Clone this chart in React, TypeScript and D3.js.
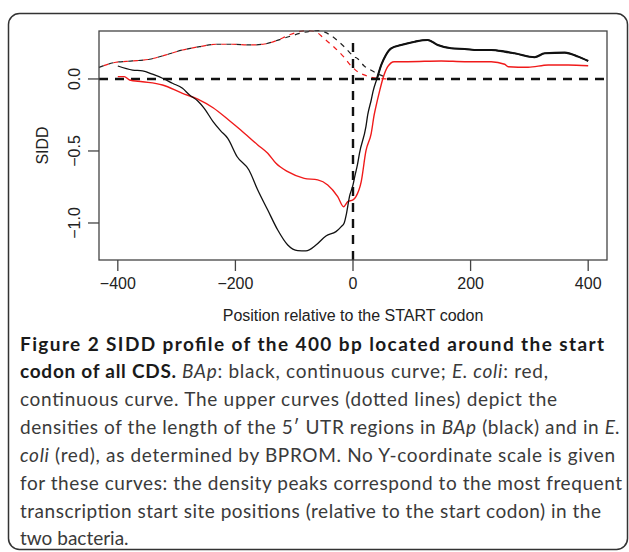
import React from 'react';
import * as d3 from 'd3';

// SIDD profile around the START codon (position in bp, SIDD value)
const bapSidd: [number, number][] = [
  [-400, 0.09], [-375, 0.062], [-358, 0.056], [-341, 0.033], [-324, 0.005],
  [-307, -0.03], [-290, -0.065], [-278, -0.111], [-264, -0.153], [-253, -0.204],
  [-238, -0.296], [-225, -0.36], [-213, -0.412], [-197, -0.54], [-177, -0.632],
  [-162, -0.771], [-145, -0.91], [-128, -1.049], [-111, -1.153], [-94, -1.192],
  [-80, -1.194], [-63, -1.153], [-46, -1.09], [-29, -1.06], [-20, -1.025],
  [-15, -1.0], [-11, -0.933], [-6, -0.817], [0, -0.736], [3, -0.678],
  [8, -0.586], [11, -0.516], [22, -0.331], [25, -0.25], [31, -0.146],
  [34, -0.088], [41, 0.005], [48, 0.097], [56, 0.167], [65, 0.213],
  [82, 0.236], [105, 0.259], [127, 0.271], [144, 0.236], [167, 0.213],
  [190, 0.208], [212, 0.201], [235, 0.201], [258, 0.19], [275, 0.178],
  [309, 0.151], [326, 0.178], [360, 0.183], [383, 0.155], [400, 0.125],
];

const ecoliSidd: [number, number][] = [
  [-400, 0.016], [-389, 0.016], [-380, -0.007], [-358, -0.019], [-324, -0.042],
  [-290, -0.1], [-264, -0.14], [-238, -0.2], [-210, -0.29], [-191, -0.354],
  [-162, -0.458], [-145, -0.516], [-131, -0.586], [-111, -0.644], [-83, -0.69],
  [-60, -0.701], [-43, -0.736], [-26, -0.817], [-16, -0.887], [-9, -0.852],
  [0, -0.84], [5, -0.817], [14, -0.713], [22, -0.5], [31, -0.377],
  [36, -0.25], [39, -0.192], [45, -0.088], [51, 0.005], [59, 0.085],
  [70, 0.12], [93, 0.12], [150, 0.125], [190, 0.12], [235, 0.12],
  [258, 0.102], [264, 0.085], [298, 0.081], [332, 0.097], [366, 0.097], [400, 0.092],
];

// 5' UTR length densities (drawn in plot units, no own scale)
const densityShared: [number, number][] = [
  [-432, 0.08], [-403, 0.116], [-375, 0.125], [-346, 0.137], [-318, 0.167],
  [-290, 0.201], [-261, 0.224], [-233, 0.241], [-205, 0.241], [-176, 0.236],
  [-153, 0.241], [-131, 0.265],
];
const bapDensityTail: [number, number][] = [
  [-108, 0.295], [-85, 0.322], [-70, 0.333], [-60, 0.336], [-48, 0.325],
  [-37, 0.3], [-15, 0.224], [2, 0.155], [8, 0.14], [19, 0.09],
  [31, 0.06], [45, 0.03], [59, 0.008], [75, 0], [82, 0],
];
const ecoliDensityTail: [number, number][] = [
  [-108, 0.306], [-90, 0.33], [-78, 0.335], [-65, 0.33], [-49, 0.28],
  [-32, 0.22], [-15, 0.15], [-3, 0.09], [8, 0.05], [19, 0.028],
  [30, 0.013], [42, 0.005], [55, 0.001], [65, 0],
];

const xTicks = [-400, -200, 0, 200, 400];
const yTicks = [-1.0, -0.5, 0.0];
const yTickLabels = ['\u22121.0', '\u22120.5', '0.0'];

const W = 629;
const H = 552;
const plot = { left: 99, right: 607, top: 31, bottom: 260 };
const axisFont = '"Liberation Sans", Arial, Helvetica, sans-serif';
const captionFont = 'Lato, "Open Sans", sans-serif';

export default function App() {
  const x = d3.scaleLinear().domain([-432, 432]).range([plot.left, plot.right]);
  const y = d3.scaleLinear().domain([-1.257, 0.333]).range([plot.bottom, plot.top]);

  const line = d3.line<[number, number]>()
    .x(d => x(d[0]))
    .y(d => y(d[1]))
    .curve(d3.curveMonotoneX);

  const bapDensity = [...densityShared, ...bapDensityTail];
  const ecoliDensity = [...densityShared, ...ecoliDensityTail];
  const bapJagged = bapSidd.filter(d => d[0] >= 41);

  const red = '#f01a1a';
  const capY0 = 350.5;
  const capStep = 27.85;
  const capX = 20;

  return (
    <svg width={W} height={H} style={{ position: 'absolute', left: 0, top: 0, background: '#fff' }}>
      {/* outer figure box */}
      <rect x={8.5} y={13.5} width={619} height={536} rx={11} fill="none" stroke="#333" strokeWidth={1.5} />

      {/* density curves */}
      <path d={line(bapDensity) || ''} fill="none" stroke="#222" strokeWidth={1.2} strokeDasharray="5 5" />
      <path d={line(ecoliDensity) || ''} fill="none" stroke={red} strokeWidth={1.2} strokeDasharray="5 5" strokeDashoffset={5} />

      {/* reference lines */}
      <line x1={plot.left} x2={plot.right} y1={y(0)} y2={y(0)} stroke="#111" strokeWidth={2.4} strokeDasharray="9 7" />
      <line x1={x(0)} x2={x(0)} y1={plot.bottom} y2={40} stroke="#111" strokeWidth={2.4} strokeDasharray="9 7" />

      {/* SIDD curves */}
      <path d={line(ecoliSidd) || ''} fill="none" stroke={red} strokeWidth={1.4} />
      <path d={line(bapSidd) || ''} fill="none" stroke="#111" strokeWidth={1.3} />
      <path d={line(bapJagged) || ''} fill="none" stroke="#111" strokeWidth={2.1} />

      {/* frame */}
      <rect x={plot.left} y={plot.top} width={plot.right - plot.left} height={plot.bottom - plot.top}
        fill="none" stroke="#444" strokeWidth={1.3} />

      {/* x axis */}
      {xTicks.map(t => (
        <g key={t}>
          <line x1={x(t)} x2={x(t)} y1={plot.bottom} y2={plot.bottom + 11} stroke="#444" strokeWidth={1.3} />
          <text x={x(t)} y={289} textAnchor="middle" fontFamily={axisFont} fontSize={16} fill="#222">
            {t < 0 ? `\u2212${Math.abs(t)}` : t}
          </text>
        </g>
      ))}
      <text x={(plot.left + plot.right) / 2} y={321} textAnchor="middle" fontFamily={axisFont} fontSize={16} fill="#222">
        Position relative to the START codon
      </text>

      {/* y axis */}
      {yTicks.map((t, i) => (
        <g key={t}>
          <line x1={plot.left - 11} x2={plot.left} y1={y(t)} y2={y(t)} stroke="#444" strokeWidth={1.3} />
          <text transform={`translate(80,${y(t)}) rotate(-90)`} textAnchor="middle"
            fontFamily={axisFont} fontSize={16} fill="#222">
            {yTickLabels[i]}
          </text>
        </g>
      ))}
      <text transform={`translate(48,${(plot.top + plot.bottom) / 2}) rotate(-90)`} textAnchor="middle"
        fontFamily={axisFont} fontSize={16} fill="#222">
        SIDD
      </text>

      {/* caption */}
      <g fontFamily={captionFont} fontSize={19} fill="#3a3a3a">
        <text x={capX} y={capY0} fontWeight="bold" fill="#1a1a1a" textLength={584} lengthAdjust="spacing">
          Figure 2 SIDD profile of the 400 bp located around the start
        </text>
        <text x={capX} y={capY0 + capStep} textLength={528} lengthAdjust="spacing">
          <tspan fontWeight="bold" fill="#1a1a1a">codon of all CDS.</tspan>
          <tspan fontStyle="italic"> BAp</tspan>
          <tspan>: black, continuous curve; </tspan>
          <tspan fontStyle="italic">E. coli</tspan>
          <tspan>: red,</tspan>
        </text>
        <text x={capX} y={capY0 + capStep * 2} textLength={537} lengthAdjust="spacing">
          continuous curve. The upper curves (dotted lines) depict the
        </text>
        <text x={capX} y={capY0 + capStep * 3} textLength={600} lengthAdjust="spacing">
          <tspan>densities of the length of the 5′ UTR regions in </tspan>
          <tspan fontStyle="italic">BAp</tspan>
          <tspan> (black) and in </tspan>
          <tspan fontStyle="italic">E.</tspan>
        </text>
        <text x={capX} y={capY0 + capStep * 4} textLength={595} lengthAdjust="spacing">
          <tspan fontStyle="italic">coli</tspan>
          <tspan> (red), as determined by BPROM. No Y-coordinate scale is given</tspan>
        </text>
        <text x={capX} y={capY0 + capStep * 5} textLength={602} lengthAdjust="spacing">
          for these curves: the density peaks correspond to the most frequent
        </text>
        <text x={capX} y={capY0 + capStep * 6} textLength={581} lengthAdjust="spacing">
          transcription start site positions (relative to the start codon) in the
        </text>
        <text x={capX} y={capY0 + capStep * 7}>
          two bacteria.
        </text>
      </g>
    </svg>
  );
}
